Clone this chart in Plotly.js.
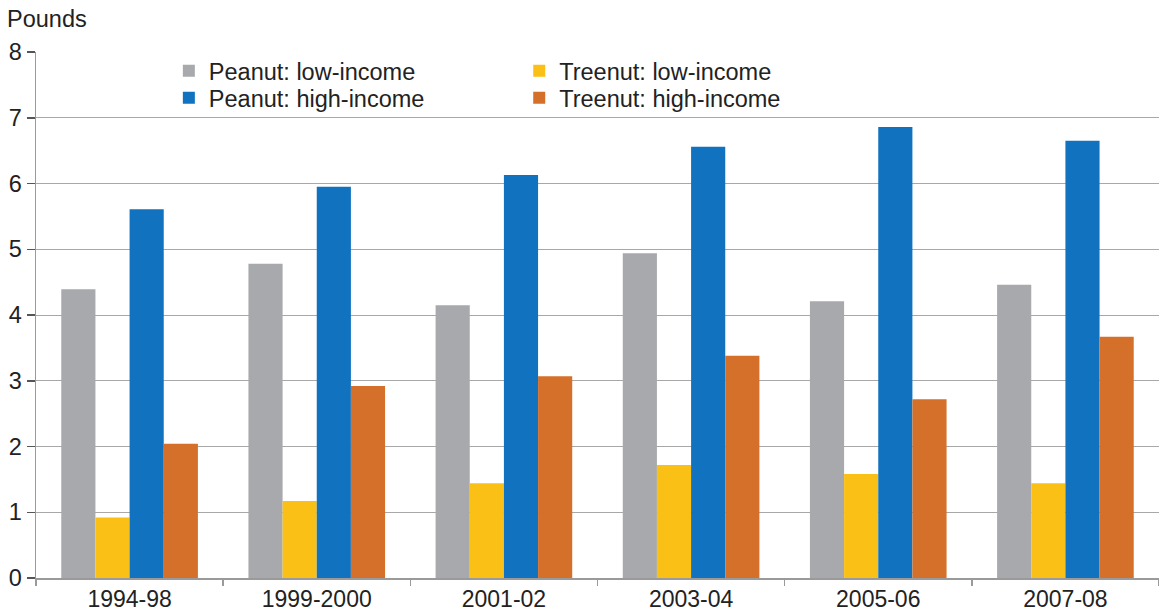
<!DOCTYPE html>
<html>
<head>
<meta charset="utf-8">
<script src="https://cdn.plot.ly/plotly-3.0.1.min.js"></script>
<style>html,body{margin:0;padding:0;background:#fff;}#chart{width:1159px;height:611px;}</style>
</head>
<body>
<div id="chart"></div>
<script>
var categories = ["1994-98", "1999-2000", "2001-02", "2003-04", "2005-06", "2007-08"];
var peanutLow = [4.39, 4.78, 4.15, 4.94, 4.21, 4.46];
var treenutLow = [0.92, 1.17, 1.44, 1.72, 1.58, 1.44];
var peanutHigh = [5.61, 5.95, 6.13, 6.56, 6.86, 6.65];
var treenutHigh = [2.04, 2.92, 3.07, 3.38, 2.72, 3.67];
var yTicks = [0, 1, 2, 3, 4, 5, 6, 7, 8];

var font = "'Liberation Sans', Arial, Helvetica, sans-serif";
var traces = [
  {type: "bar", name: "Peanut: low-income", x: categories, y: peanutLow, marker: {color: "#a7a9ac"}, legend: "legend"},
  {type: "bar", name: "Treenut: low-income", x: categories, y: treenutLow, marker: {color: "#fbc015"}, legend: "legend2"},
  {type: "bar", name: "Peanut: high-income", x: categories, y: peanutHigh, marker: {color: "#1173bf"}, legend: "legend3"},
  {type: "bar", name: "Treenut: high-income", x: categories, y: treenutHigh, marker: {color: "#d5702b"}, legend: "legend4"}
];

function leg(x, y) {
  return {
    orientation: "v", yanchor: "middle", y: y, xanchor: "left", x: x,
    bgcolor: "rgba(0,0,0,0)", borderwidth: 0,
    font: {family: font, size: 23.5, color: "#222"}
  };
}

var layout = {
  width: 1159, height: 611,
  margin: {l: 36, r: 0, t: 52, b: 33},
  paper_bgcolor: "#fff", plot_bgcolor: "#fff",
  barmode: "group", bargap: 0.27, bargroupgap: 0,
  font: {family: font, size: 23.5, color: "#222"},
  title: {text: "Pounds", x: 7/1159, xanchor: "left", xref: "container", y: 1 - 19/611, yanchor: "middle", yref: "container",
          font: {family: font, size: 23.5, color: "#222"}},
  showlegend: true,
  legend: leg(0.1183, 0.964),
  legend2: leg(0.4303, 0.964),
  legend3: leg(0.1183, 0.9125),
  legend4: leg(0.4303, 0.9125),
  xaxis: {
    type: "category", range: [-0.5, 5.5], fixedrange: true,
    showline: true, linecolor: "#9a9a9a", linewidth: 1.5,
    ticks: "outside", tickson: "boundaries", ticklen: 6, tickcolor: "#9a9a9a", tickwidth: 1.5,
    showgrid: false, automargin: false,
    tickfont: {family: font, size: 23, color: "#222"}
  },
  yaxis: {
    range: [0, 8], tickvals: yTicks, ticktext: yTicks.map(String), fixedrange: true,
    showline: true, linecolor: "#9a9a9a", linewidth: 1.5,
    ticks: "outside", ticklen: 8, tickcolor: "#555", tickwidth: 1.5,
    showgrid: true, gridcolor: "#a8a8a8", gridwidth: 1,
    zeroline: false, automargin: false,
    tickfont: {family: font, size: 23.5, color: "#222"}
  }
};

Plotly.newPlot("chart", traces, layout, {displayModeBar: false, staticPlot: true});
</script>
</body>
</html>
